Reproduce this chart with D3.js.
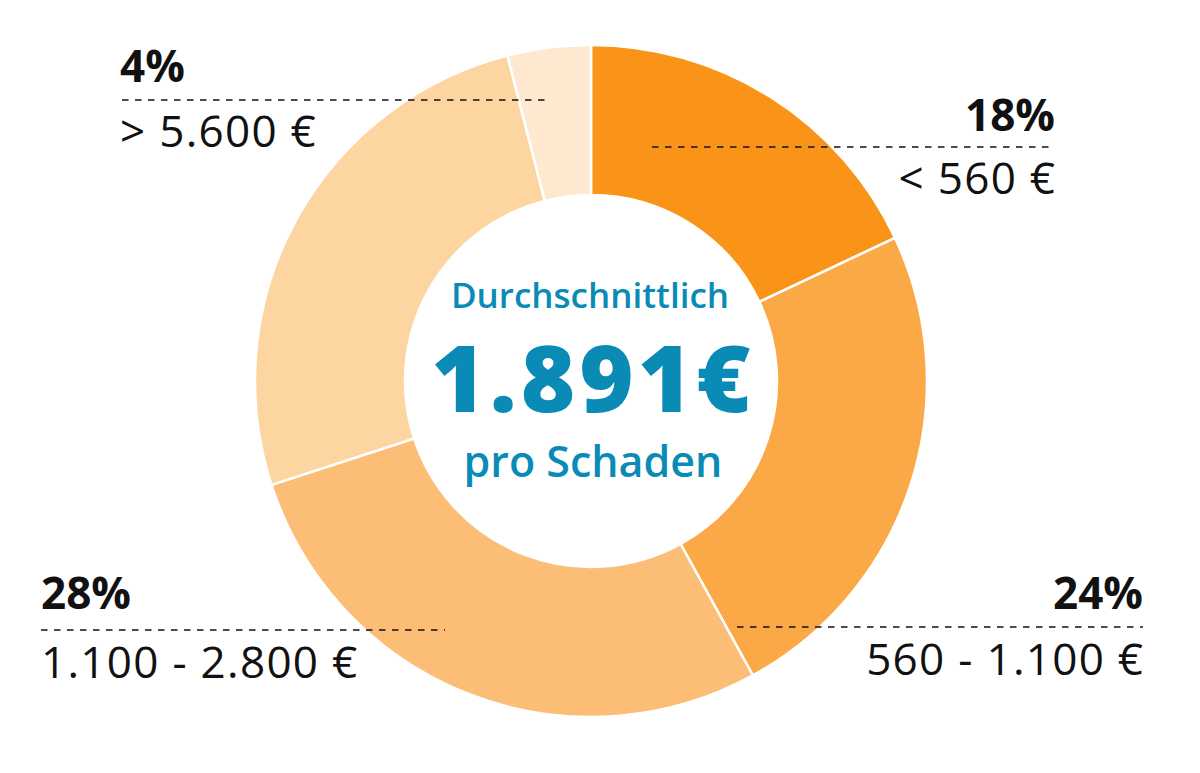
<!DOCTYPE html>
<html>
<head>
<meta charset="utf-8">
<script src="https://cdn.jsdelivr.net/npm/d3@7"></script>
<style>
  body { margin: 0; background: #fff; }
  svg { display: block; font-family: "Open Sans", Lato, sans-serif; }
</style>
</head>
<body>
<div id="chart-area"></div>
<script>
// shares of claims by damage amount
var shares = [18, 24, 28, 26, 4]
var ranges = ["< 560 €", "560 - 1.100 €", "1.100 - 2.800 €", "2.800 - 5.600 €", "> 5.600 €"]
var colors = ["#FA9419", "#FBA946", "#FCBE76", "#FDD5A1", "#FEE8D0"]
var showLabel = [true, true, true, false, true]

var centerLines = ["Durchschnittlich", "1.891€", "pro Schaden"]

var width = 1200
var height = 773

var svg = d3.select("#chart-area").append("svg")
  .attr("width", width)
  .attr("height", height)

var cx = 591, cy = 381
var outerR = 336, innerR = 186

var pie = d3.pie().sort(null).value(d => d)
var arc = d3.arc().innerRadius(innerR).outerRadius(outerR)

var g = svg.append("g")
  .attr("transform", "translate(" + cx + "," + cy + ")")

g.selectAll("path")
  .data(pie(shares))
  .enter().append("path")
  .attr("d", arc)
  .attr("fill", (d, i) => colors[i])
  .attr("stroke", "#fff")
  .attr("stroke-width", 2.5)

var labelPos = [
  {i: 0, anchor: "end",   x: 1055, lx1: 652, lx2: 1051, py: 131, ly: 147, ry: 194},
  {i: 1, anchor: "end",   x: 1143, lx1: 737, lx2: 1143, py: 609, ly: 627, ry: 675},
  {i: 2, anchor: "start", x: 41,   lx1: 41,  lx2: 445,  py: 609, ly: 630, ry: 678},
  {i: 4, anchor: "start", x: 120,  lx1: 122, lx2: 550,  py: 82,  ly: 100, ry: 147}
]

var labels = svg.append("g")

labelPos.filter(p => showLabel[p.i]).forEach(p => {
  labels.append("line")
    .attr("x1", p.lx1).attr("x2", p.lx2)
    .attr("y1", p.ly).attr("y2", p.ly)
    .attr("stroke", "#111")
    .attr("stroke-width", 1.5)
    .attr("stroke-dasharray", "6.5 6.5")

  labels.append("text")
    .attr("x", p.x)
    .attr("y", p.py)
    .attr("text-anchor", p.anchor)
    .attr("font-size", "44px")
    .attr("font-weight", 700)
    .style("fill", "#111")
    .text(shares[p.i] + "%")

  labels.append("text")
    .attr("x", p.x + (p.anchor == "end" ? 1.3 : 0))
    .attr("y", p.ry)
    .attr("text-anchor", p.anchor)
    .attr("font-size", "44px")
    .attr("font-weight", 400)
    .attr("letter-spacing", 1.3)
    .style("fill", "#111")
    .text(ranges[p.i])
})

// center text
var teal = "#0A8BB6"
svg.append("text")
  .attr("x", cx - 1).attr("y", 308)
  .attr("text-anchor", "middle")
  .attr("font-size", "35px")
  .attr("font-weight", 600)
  .style("fill", teal)
  .text(centerLines[0])

svg.append("text")
  .attr("x", cx + 2).attr("y", 412)
  .attr("text-anchor", "middle")
  .attr("font-size", "93px")
  .attr("font-weight", 800)
  .attr("letter-spacing", 4)
  .style("fill", teal)
  .text(centerLines[1])

svg.append("text")
  .attr("x", cx + 2).attr("y", 477)
  .attr("text-anchor", "middle")
  .attr("font-size", "43px")
  .attr("font-weight", 600)
  .style("fill", teal)
  .text(centerLines[2])
</script>
</body>
</html>
